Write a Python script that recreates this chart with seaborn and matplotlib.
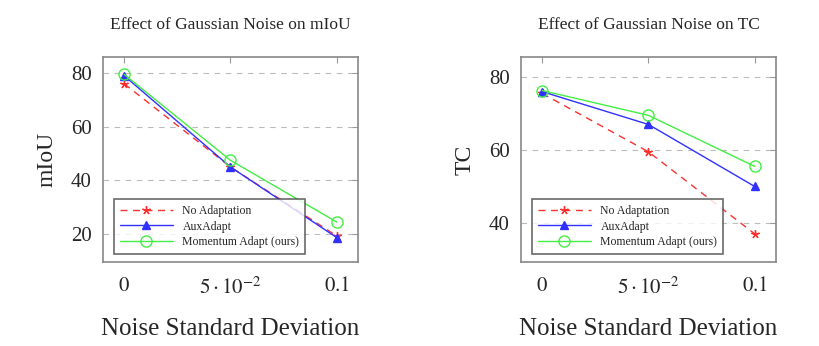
import numpy as np
import pandas as pd
import matplotlib
matplotlib.use("Agg")
import matplotlib.pyplot as plt
import seaborn as sns

# Values
noise_std = [0.0, 0.05, 0.1]
methods = ["No Adaptation", "AuxAdapt", "Momentum Adapt (ours)"]

miou_no_adapt = [76, 45, 19.3]
miou_auxadapt = [79, 45, 18.7]
miou_momentum = [79.5, 47.5, 24.5]

tc_no_adapt = [75.5, 59.5, 37]
tc_auxadapt = [76, 67, 50]
tc_momentum = [76.3, 69.5, 55.5]

x_ticks = [0, 0.05, 0.1]
x_ticklabels = ["$0$", r"$5\cdot10^{-2}$", "$0.1$"]

colors = {"No Adaptation": "#ff3030", "AuxAdapt": "#3030ff", "Momentum Adapt (ours)": "#44ee44"}
markers = {"No Adaptation": "*", "AuxAdapt": "^", "Momentum Adapt (ours)": "o"}
dashes = {"No Adaptation": (5, 4), "AuxAdapt": "", "Momentum Adapt (ours)": ""}


def make_frame(a, b, c):
    rows = []
    for name, vals in zip(methods, [a, b, c]):
        for x, v in zip(noise_std, vals):
            rows.append({"noise": x, "value": v, "method": name})
    return pd.DataFrame(rows)


def restyle(line):
    m = line.get_marker()
    c = line.get_color()
    line.set_markeredgecolor(c)
    line.set_markeredgewidth(1.0)
    if m == "*":
        line.set_marker((5, 2, 0))
        line.set_markersize(6)
    elif m == "^":
        line.set_markerfacecolor(c)
        line.set_markersize(6)
    elif m == "o":
        line.set_markerfacecolor("none")
        line.set_markersize(8)


sns.set_style("white")
plt.rcParams["font.family"] = ["Liberation Serif", "DejaVu Serif"]
plt.rcParams["mathtext.fontset"] = "stix"

fig = plt.figure(figsize=(8.2, 3.46), dpi=100)
W, H = 820, 346
ax1 = fig.add_axes([103 / W, 1 - 262 / H, 255 / W, 205 / H])
ax2 = fig.add_axes([521 / W, 1 - 262 / H, 255 / W, 205 / H])

panels = [
    (ax1, make_frame(miou_no_adapt, miou_auxadapt, miou_momentum), "mIoU",
     "Effect of Gaussian Noise on mIoU", (9.6, 86), [20, 40, 60, 80]),
    (ax2, make_frame(tc_no_adapt, tc_auxadapt, tc_momentum), "TC",
     "Effect of Gaussian Noise on TC", (29.3, 85.5), [40, 60, 80]),
]

for ax, df, ylabel, title, ylim, yticks in panels:
    sns.lineplot(data=df, x="noise", y="value", hue="method", style="method",
                 palette=colors, markers=markers, dashes=dashes, ax=ax,
                 linewidth=1.0)
    for line in ax.get_lines():
        restyle(line)
    ax.set_xlim(-0.01, 0.11)
    ax.set_ylim(*ylim)
    ax.set_xticks(x_ticks)
    ax.set_xticklabels(x_ticklabels)
    ax.set_yticks(yticks)
    ax.yaxis.grid(True, linestyle=(0, (5, 5)), color="#bbbbbb", linewidth=0.8)
    ax.xaxis.grid(False)
    ax.tick_params(axis="both", direction="in", length=4, color="#999999",
                   labelsize=15, top=True, right=True)
    ax.tick_params(axis="x", pad=11)
    ax.tick_params(axis="y", pad=8)
    for s in ax.spines.values():
        s.set_color("#888888")
        s.set_linewidth(1.2)
    ax.set_xlabel("Noise Standard Deviation", fontsize=18, labelpad=14)
    ax.set_ylabel(ylabel, fontsize=17, labelpad=10)
    ax.set_title(title, fontsize=12.5, pad=20)
    handles, labels = ax.get_legend_handles_labels()
    for h in handles:
        restyle(h)
    leg = ax.legend(handles, labels, loc="lower left", fontsize=8.5,
                    frameon=True, fancybox=False, edgecolor="#444444",
                    handlelength=4.5, borderpad=0.5, labelspacing=0.3,
                    handletextpad=0.8, bbox_to_anchor=(0.02, 0.01))
    leg.get_frame().set_linewidth(1.2)

fig.savefig("out.png", dpi=100)
